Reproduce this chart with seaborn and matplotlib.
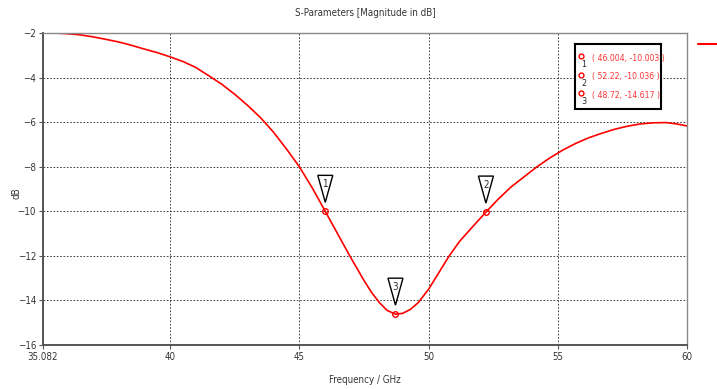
import numpy as np
import pandas as pd
import matplotlib
matplotlib.use("Agg")
import matplotlib.pyplot as plt
import seaborn as sns
from matplotlib.patches import Polygon
from matplotlib.transforms import IdentityTransform

# -------------------------------
# Data
# -------------------------------
freq = [35.082, 35.5, 36.0, 36.5, 37.0, 37.5, 38.0, 38.5, 39.0, 39.5, 40.0,
        40.5, 41.0, 41.5, 42.0, 42.5, 43.0, 43.5, 44.0, 44.5, 45.0, 45.5,
        46.004, 46.5, 47.0, 47.5, 47.8, 48.1, 48.4, 48.72, 49.0, 49.3, 49.6,
        50.0, 50.4, 50.8, 51.2, 51.7, 52.22, 52.7, 53.2, 53.7, 54.2, 54.7,
        55.2, 55.7, 56.2, 56.7, 57.2, 57.7, 58.2, 58.7, 59.2, 59.6, 60.0]
s11_db = [-2.0, -2.0, -2.03, -2.08, -2.17, -2.28, -2.4, -2.55, -2.72, -2.88, -3.07,
          -3.28, -3.55, -3.92, -4.3, -4.75, -5.25, -5.8, -6.45, -7.2, -8.0, -8.95,
          -10.003, -11.05, -12.1, -13.1, -13.65, -14.1, -14.45, -14.617, -14.58, -14.4, -14.1,
          -13.5, -12.75, -12.0, -11.35, -10.7, -10.036, -9.45, -8.9, -8.45, -8.0, -7.6,
          -7.25, -6.95, -6.7, -6.5, -6.32, -6.18, -6.08, -6.03, -6.02, -6.08, -6.17]

marker_ids = ["1", "2", "3"]
marker_x = [46.004, 52.22, 48.72]
marker_y = [-10.003, -10.036, -14.617]
marker_text = ["( 46.004, -10.003 )", "( 52.22, -10.036 )", "( 48.72, -14.617 )"]

xticks = [35.082, 40, 45, 50, 55, 60]
xtick_labels = ["35.082", "40", "45", "50", "55", "60"]
yticks = [-2, -4, -6, -8, -10, -12, -14, -16]

df = pd.DataFrame({"freq": freq, "db": s11_db})

# -------------------------------
# Plot
# -------------------------------
sns.set_style("white")
plt.rcParams["font.family"] = ["DejaVu Sans"]
plt.rcParams["font.stretch"] = "condensed"

fig = plt.figure(figsize=(7.17, 3.89), dpi=100)
ax = fig.add_axes([43 / 717, 1 - 345 / 389, 644 / 717, 312 / 389])

sns.lineplot(data=df, x="freq", y="db", color="red", linewidth=1.2, ax=ax)
ax.plot(marker_x, marker_y, "o", mfc="none", mec="red", ms=4, mew=1)

ax.set_xlim(35.082, 60)
ax.set_ylim(-16, -2)
ax.set_xticks(xticks)
ax.set_xticklabels(xtick_labels)
ax.set_yticks(yticks)
ax.tick_params(labelsize=7, length=3, color="#555555", direction="out",
               bottom=True, left=True, pad=2, labelcolor="#333333")
ax.grid(True, color="#222222", linestyle=(0, (2, 2)), linewidth=0.6)

for side in ["left", "bottom"]:
    ax.spines[side].set_color("#555555")
    ax.spines[side].set_linewidth(1.4)
for side in ["top", "right"]:
    ax.spines[side].set_color("#888888")
    ax.spines[side].set_linewidth(1.0)

ax.set_xlabel("")
ax.set_ylabel("")
fig.text(365 / 717, 1 - 380 / 389, "Frequency / GHz", fontsize=7,
         ha="center", va="center", color="#333333")
fig.text(17 / 717, 1 - 193 / 389, "dB", fontsize=7, rotation=90,
         ha="center", va="center", color="#333333")
fig.text(365 / 717, 1 - 13 / 389, "S-Parameters [Magnitude in dB]", fontsize=7,
         ha="center", va="center", color="#333333")

# marker callouts (triangles above each marker)
fig.canvas.draw()
for mid, mx, my in zip(marker_ids, marker_x, marker_y):
    px, py = ax.transData.transform((mx, my))
    tip = py + 9
    top = py + 36
    tri = Polygon([(px - 7.5, top), (px + 7.5, top), (px, tip)], closed=True,
                  facecolor="white", edgecolor="black", linewidth=1.0,
                  transform=IdentityTransform(), clip_on=False, zorder=5)
    ax.add_patch(tri)
    fig.text(px / 717, (top - 9) / 389, mid, fontsize=7, ha="center",
             va="center", zorder=6)

# marker info box
box_ax = fig.add_axes([575 / 717, 1 - 109 / 389, 86 / 717, 65 / 389])
box_ax.set_xticks([])
box_ax.set_yticks([])
box_ax.set_facecolor("white")
for s in box_ax.spines.values():
    s.set_color("black")
    s.set_linewidth(1.5)
rows = [0.78, 0.5, 0.21]
for mid, txt, ry in zip(marker_ids, marker_text, rows):
    box_ax.plot(0.07, ry + 0.03, "o", mfc="none", mec="red", ms=3.5, mew=1,
                transform=box_ax.transAxes, clip_on=False)
    box_ax.text(0.1, ry - 0.1, mid, fontsize=6.5, ha="center", va="center",
                transform=box_ax.transAxes)
    box_ax.text(0.2, ry, txt, fontsize=6.2, color="#ff3333", ha="left",
                va="center", transform=box_ax.transAxes)

# legend stub on the right edge
fig.add_artist(plt.Line2D([698 / 717, 1.0], [1 - 44 / 389] * 2, color="red",
                          linewidth=1.5))

plt.savefig("out.png", dpi=100)
